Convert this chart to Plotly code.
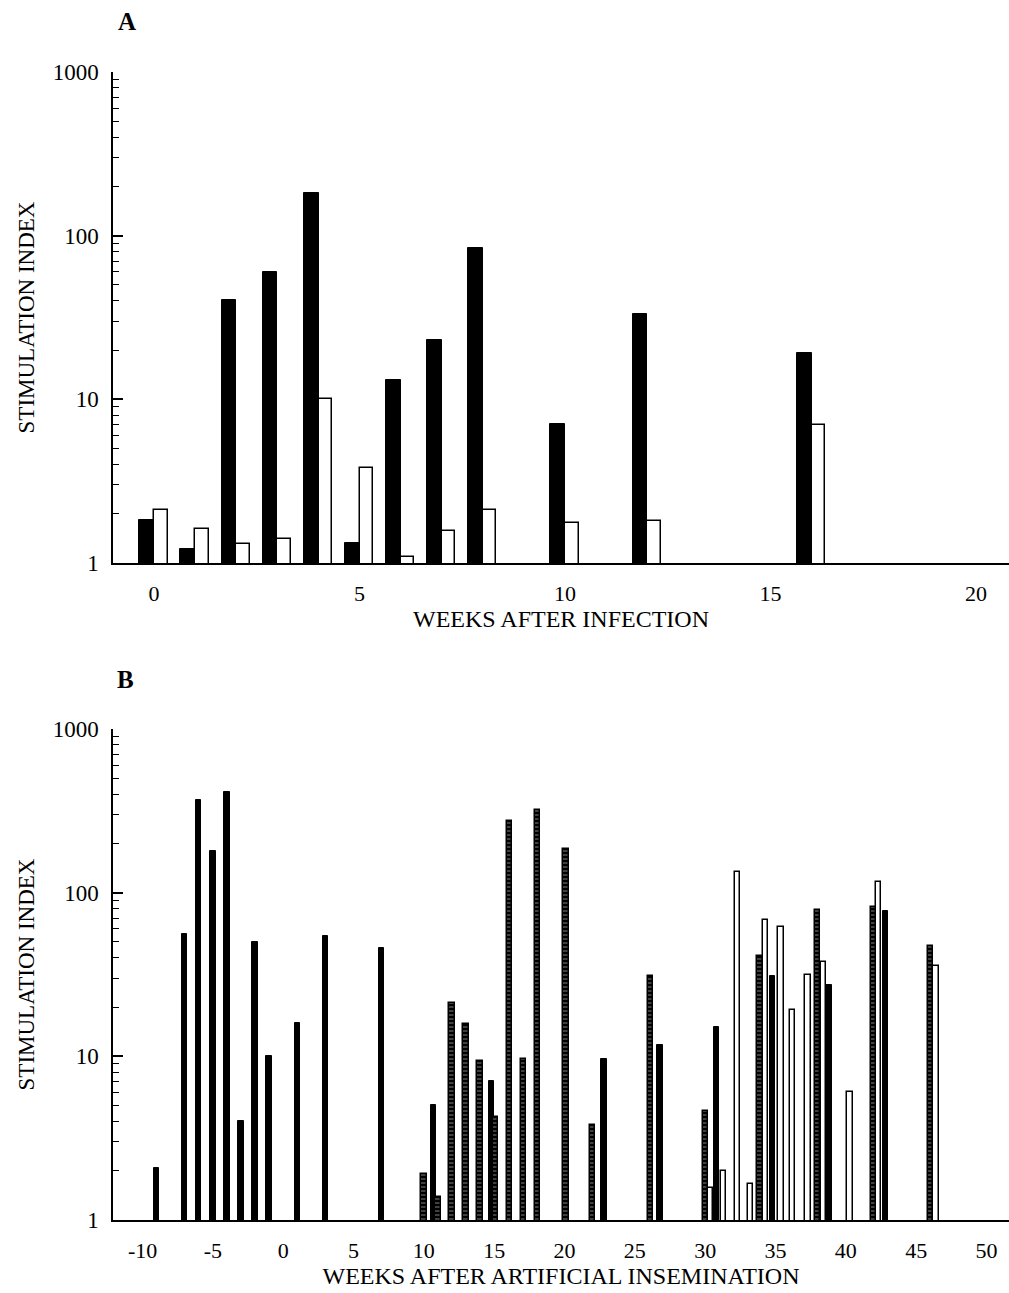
import plotly.graph_objects as go
from plotly.subplots import make_subplots

# ---------------- Panel A data ----------------
weeks_a = [0, 1, 2, 3, 4, 5, 6, 7, 8, 10, 12, 16]
a_black = [1.83, 1.22, 40.7, 59.8, 182, 1.32, 13.2, 23.1, 84, 7.1, 33.3, 19.3]
a_white = [2.10, 1.61, 1.31, 1.41, 10.0, 3.83, 1.09, 1.56, 2.10, 1.76, 1.81, 6.96]

# ---------------- Panel B data ----------------
b_black_x = [-9, -7, -6, -5, -4, -3, -2, -1, 1, 3, 7, 10.7, 14.8, 22.8, 26.8, 30.8, 34.8, 38.8, 42.8]
b_black_y = [2.09, 56, 367, 180, 410, 4.02, 50, 10, 16.0, 54, 46, 5.03, 7.07, 9.57, 11.7, 15.2, 30.9, 27.2, 77.6]

b_hatch_x = [10, 11.0, 12, 13, 14, 15.1, 16.1, 17.1, 18.1, 20.1, 22.0, 26.1, 30.0, 33.9, 38.0, 42.0, 46.0]
b_hatch_y = [1.9, 1.39, 21.2, 15.7, 9.34, 4.24, 273, 9.67, 321, 186, 3.83, 30.9, 4.65, 41.1, 78.4, 81.9, 47.4]

b_white_x = [30.4, 31.3, 32.3, 33.2, 34.3, 35.4, 36.2, 37.3, 38.4, 40.3, 42.3, 46.4]
b_white_y = [1.57, 2.0, 133, 1.66, 67.7, 61.7, 19.2, 31.6, 37.5, 6.05, 117, 35.6]

ytick_vals = [1, 10, 100, 1000]
ytick_text = ["1", "10", "100", "1000"]
minor_vals = [m * d for d in (1, 10, 100) for m in range(2, 10)]
xticks_a = [0, 5, 10, 15, 20]
xticks_a_text = ["0", "5", "10", "15", "20"]
xticks_b = [-10, -5, 0, 5, 10, 15, 20, 25, 30, 35, 40, 45, 50]
xticks_b_text = ["-10", "-5", "0", "5", "10", "15", "20", "25", "30", "35", "40", "45", "50"]

FONT = "Liberation Serif, Times New Roman, serif"

fig = make_subplots(rows=2, cols=1)

# Panel A
fig.add_trace(go.Bar(x=weeks_a, y=a_black, offset=-0.36, width=0.36,
                     marker=dict(color="black", line=dict(color="black", width=1)),
                     showlegend=False), row=1, col=1)
fig.add_trace(go.Bar(x=weeks_a, y=a_white, offset=0.0, width=0.33,
                     marker=dict(color="white", line=dict(color="black", width=1.5)),
                     showlegend=False), row=1, col=1)

# Panel B
fig.add_trace(go.Bar(x=b_black_x, y=b_black_y, width=0.38,
                     marker=dict(color="black", line=dict(color="black", width=1)),
                     showlegend=False), row=2, col=1)
fig.add_trace(go.Bar(x=b_hatch_x, y=b_hatch_y, width=0.38,
                     marker=dict(color="black", line=dict(color="black", width=1.5),
                                 pattern=dict(shape="-", bgcolor="black", fgcolor="white",
                                              size=4, solidity=0.25)),
                     showlegend=False), row=2, col=1)
fig.add_trace(go.Bar(x=b_white_x, y=b_white_y, width=0.38,
                     marker=dict(color="white", line=dict(color="black", width=1.5)),
                     showlegend=False), row=2, col=1)

yax_common = dict(
    type="log", range=[0, 3], showline=True, linecolor="black", linewidth=1.5,
    ticks="inside", ticklen=10, tickwidth=1.5, tickcolor="black",
    tickmode="array", tickvals=ytick_vals, ticktext=ytick_text,
    minor=dict(ticks="inside", ticklen=6, tickwidth=1.2, tickcolor="black",
               tickmode="array", tickvals=minor_vals, showgrid=False),
    showgrid=False, zeroline=False, automargin=False,
    tickfont=dict(family=FONT, size=23, color="black"),
    ticklabelstandoff=8,
    title=dict(text="STIMULATION INDEX", font=dict(family=FONT, size=23, color="black"),
               standoff=12),
)
xax_common = dict(
    showline=True, linecolor="black", linewidth=1.5, ticks="",
    showgrid=False, zeroline=False, automargin=False,
    tickfont=dict(family=FONT, size=22, color="black"),
    ticklabelstandoff=10,
    tickmode="array",
)

fig.update_layout(
    width=1009, height=1293,
    margin=dict(l=113, r=0, t=72, b=73),
    paper_bgcolor="white", plot_bgcolor="white",
    barmode="overlay", bargap=0,
    font=dict(family=FONT, color="black"),
    xaxis=dict(xax_common, domain=[0, 1], range=[-1.0, 20.8],
               tickvals=xticks_a, ticktext=xticks_a_text,
               title=dict(text="WEEKS AFTER INFECTION",
                          font=dict(family=FONT, size=24, color="black"), standoff=4)),
    yaxis=dict(yax_common, domain=[0.5723, 1.0]),
    xaxis2=dict(xax_common, domain=[0, 1], range=[-12.1, 51.6],
                tickvals=xticks_b, ticktext=xticks_b_text,
                title=dict(text="WEEKS AFTER ARTIFICIAL INSEMINATION",
                           font=dict(family=FONT, size=24, color="black"), standoff=4)),
    yaxis2=dict(yax_common, domain=[0.0, 0.4277]),
    annotations=[
        dict(text="<b>A</b>", x=0.0156, y=1.0444, xref="paper", yref="paper",
             showarrow=False, font=dict(family=FONT, size=25, color="black"),
             xanchor="center", yanchor="middle"),
        dict(text="<b>B</b>", x=0.0134, y=0.4704, xref="paper", yref="paper",
             showarrow=False, font=dict(family=FONT, size=25, color="black"),
             xanchor="center", yanchor="middle"),
    ],
)

fig.write_html(
    "out.html",
    config={"displayModeBar": False},
    post_script="document.body.style.margin='0';document.body.style.overflow='hidden';",
)
